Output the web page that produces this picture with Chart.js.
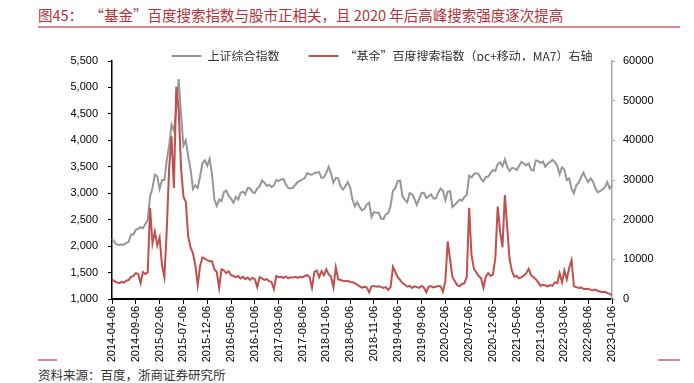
<!DOCTYPE html>
<html>
<head>
<meta charset="utf-8">
<script src="https://cdn.jsdelivr.net/npm/chart.js@4.4.1/dist/chart.umd.min.js"></script>
<style>
body { margin: 0; background: #fff; width: 694px; height: 383px; overflow: hidden; position: relative; font-family: "Noto Sans CJK SC", sans-serif; }
#title { position: absolute; left: 38px; top: 4px; font-size: 14.5px; color: #b8303a; white-space: pre; }
.rule { position: absolute; background: #db8a8c; height: 2px; }
#src { position: absolute; left: 38px; top: 365px; font-size: 12.5px; color: #333; }
#wrap { position: absolute; left: 0; top: 0; width: 694px; height: 383px; }
</style>
</head>
<body>
<div id="title">图45：  “基金”百度搜索指数与股市正相关，且 2020 年后高峰搜索强度逐次提高</div>
<div class="rule" style="left:38px;top:26px;width:642px"></div>
<div class="rule" style="left:38px;top:359px;width:19px"></div>
<div class="rule" style="left:658px;top:359px;width:22px"></div>
<div id="src">资料来源：百度，浙商证券研究所</div>
<div id="wrap"><canvas id="chart"></canvas></div>
<script>
// semi-monthly dates, 2014-04-06 .. 2023-01-06
var dates = [];
for (var y = 2014; y <= 2023; y++) {
    for (var m = 1; m <= 12; m++) {
        if (y === 2014 && m < 4) continue;
        var mm = (m < 10 ? '0' : '') + m;
        dates.push(y + '-' + mm + '-06');
        if (y === 2023) break;
        dates.push(y + '-' + mm + '-21');
    }
}

var tickLabels = ['2014-04-06', '2014-09-06', '2015-02-06', '2015-07-06', '2015-12-06', '2016-05-06',
    '2016-10-06', '2017-03-06', '2017-08-06', '2018-01-06', '2018-06-06', '2018-11-06', '2019-04-06',
    '2019-09-06', '2020-02-06', '2020-07-06', '2020-12-06', '2021-05-06', '2021-10-06', '2022-03-06',
    '2022-08-06', '2023-01-06'];

// 上证综合指数 (left axis)
var sse2014 = [2140, 2080, 2030, 2020, 2030, 2025, 2060, 2080, 2220, 2220, 2310, 2330, 2360, 2340, 2420, 2490, 2940, 3100];
var sse2015 = [3350, 3320, 3080, 3250, 3250, 3620, 3900, 4300, 4180, 4600, 5160, 4480, 3900, 4000, 3700, 3450, 3080, 3150, 3100, 3320, 3570, 3620, 3520, 3650];
var sse2016 = [3360, 2880, 2760, 2880, 2850, 3020, 3050, 2950, 2900, 2820, 2930, 2880, 3010, 3030, 2980, 3100, 3090, 3020, 3005, 3090, 3130, 3240, 3200, 3140];
var sse2017 = [3160, 3120, 3150, 3250, 3230, 3260, 3270, 3170, 3100, 3090, 3100, 3160, 3210, 3240, 3260, 3290, 3380, 3360, 3350, 3380, 3390, 3400, 3290, 3300];
var sse2018 = [3390, 3500, 3370, 3200, 3290, 3280, 3130, 3070, 3130, 3210, 3110, 2880, 2750, 2830, 2740, 2680, 2700, 2790, 2820, 2550, 2640, 2630, 2630, 2520];
var sse2019 = [2510, 2600, 2620, 2760, 3050, 3100, 3230, 3240, 2940, 2880, 2830, 3000, 2980, 2900, 2780, 2890, 3000, 3010, 2910, 2940, 2980, 2900, 2900, 3010];
var sse2020 = [3090, 3050, 2870, 3030, 3040, 2740, 2780, 2830, 2880, 2860, 2930, 2970, 3330, 3300, 3360, 3380, 3360, 3270, 3220, 3310, 3310, 3380, 3440, 3420];
var sse2021 = [3550, 3590, 3510, 3640, 3500, 3420, 3480, 3470, 3440, 3520, 3590, 3560, 3530, 3560, 3450, 3430, 3620, 3610, 3570, 3600, 3500, 3560, 3590, 3630];
var sse2022 = [3590, 3520, 3360, 3490, 3450, 3250, 3280, 3090, 3000, 3150, 3200, 3300, 3390, 3290, 3210, 3280, 3220, 3100, 3020, 3040, 3070, 3110, 3210, 3090];
var sse2023 = [3160];

// "基金" 百度搜索指数 (pc+移动, MA7), right axis
var fund2014 = [5000, 4500, 4200, 4000, 4300, 4100, 4600, 4800, 5600, 5800, 6500, 6300, 4000, 6800, 6300, 6700, 23000, 14000];
var fund2015 = [17000, 13500, 15500, 8500, 5500, 17400, 33000, 41000, 28000, 53500, 48000, 33000, 25800, 24500, 15700, 13000, 11500, 8500, 3500, 8300, 10500, 10200, 9800, 9500];
var fund2016 = [9500, 7500, 6800, 2800, 7500, 7200, 6500, 7000, 6000, 5800, 5500, 5800, 5200, 5600, 5000, 5400, 4800, 5300, 5000, 3000, 5500, 5200, 4800, 5000];
var fund2017 = [4500, 4300, 2500, 5800, 5500, 5600, 5300, 5700, 5200, 5500, 5400, 5600, 5300, 5600, 5500, 5800, 6000, 5500, 2800, 6800, 7200, 5500, 7000, 6000];
var fund2018 = [7500, 6200, 5600, 2900, 8000, 5000, 4800, 4600, 4500, 4600, 4300, 4200, 4000, 3600, 3200, 2800, 3100, 2900, 1700, 3200, 3300, 3100, 3200, 3000];
var fund2019 = [2800, 3000, 2300, 3000, 8100, 6800, 5500, 4800, 4000, 3600, 3100, 3300, 2800, 3200, 3000, 2800, 3300, 2900, 1700, 3100, 3200, 2900, 3100, 3300];
var fund2020 = [3200, 1800, 4500, 14500, 9900, 5500, 4500, 3500, 3200, 3800, 4000, 5600, 23000, 11000, 7600, 6700, 5800, 5200, 2800, 5600, 6500, 5800, 6200, 10300];
var fund2021 = [23300, 17000, 13000, 26200, 18000, 9900, 7000, 5600, 5800, 5200, 5500, 5900, 6500, 7600, 6000, 5500, 5000, 4200, 3300, 3600, 3400, 3200, 3500, 3300];
var fund2022 = [4200, 4000, 6500, 4200, 7200, 5000, 7800, 9800, 3200, 3000, 2800, 2900, 2600, 2500, 2600, 2300, 2200, 2400, 2000, 1900, 1700, 1800, 1500, 1300];
var fund2023 = [1000];

var sse = [].concat(sse2014, sse2015, sse2016, sse2017, sse2018, sse2019, sse2020, sse2021, sse2022, sse2023);
var fund = [].concat(fund2014, fund2015, fund2016, fund2017, fund2018, fund2019, fund2020, fund2021, fund2022, fund2023);

Chart.defaults.font.family = '"Liberation Sans", Arial, sans-serif';
Chart.defaults.font.size = 11;
Chart.defaults.color = '#000';

new Chart(document.getElementById('chart'), {
    type: 'line',
    data: {
        labels: dates,
        datasets: [{
            label: '上证综合指数',
            data: sse,
            yAxisID: 'y',
            borderColor: '#979797',
            backgroundColor: '#979797',
            borderWidth: 2,
            pointRadius: 0,
            order: 1
        }, {
            label: '“基金”百度搜索指数（pc+移动，MA7）右轴',
            data: fund,
            yAxisID: 'y2',
            borderColor: '#C0504D',
            backgroundColor: '#C0504D',
            borderWidth: 2,
            pointRadius: 0,
            order: 0
        }]
    },
    options: {
        responsive: true,
        maintainAspectRatio: false,
        animation: false,
        layout: { padding: { top: 21, left: 70, right: 0, bottom: 0 } },
        scales: {
            x: {
                afterBuildTicks: function (scale) {
                    scale.ticks = scale.ticks.filter(function (t) { return tickLabels.indexOf(dates[t.value]) >= 0; });
                },
                afterFit: function (scale) { scale.height = 84; },
                ticks: { autoSkip: false, minRotation: 90, maxRotation: 90, padding: 2 },
                grid: { drawOnChartArea: false, tickLength: 5, color: '#000' },
                border: { color: '#000', width: 2 }
            },
            y: {
                position: 'left',
                min: 1000,
                max: 5500,
                afterFit: function (scale) { scale.width = 42; },
                ticks: {
                    stepSize: 500,
                    padding: 10,
                    callback: function (value) { return value.toLocaleString('en-US'); }
                },
                grid: { drawOnChartArea: false, tickLength: 4, color: '#000' },
                border: { color: '#000', width: 1.5 }
            },
            y2: {
                position: 'right',
                min: 0,
                max: 60000,
                afterFit: function (scale) { scale.width = 82; },
                ticks: {
                    stepSize: 10000,
                    padding: 8,
                    callback: function (value) { return String(value); }
                },
                grid: { drawOnChartArea: false, tickLength: 3, color: '#a6a6a6' },
                border: { color: '#a6a6a6', width: 1.5 }
            }
        },
        plugins: {
            tooltip: { enabled: false },
            legend: {
                position: 'top',
                maxHeight: 40,
                labels: {
                    usePointStyle: true,
                    pointStyle: 'line',
                    pointStyleWidth: 30,
                    padding: 29,
                    color: '#333',
                    font: { family: '"Noto Sans CJK SC", sans-serif', size: 12 },
                    sort: function (a, b) { return a.datasetIndex - b.datasetIndex; }
                }
            }
        }
    }
});
</script>
</body>
</html>
